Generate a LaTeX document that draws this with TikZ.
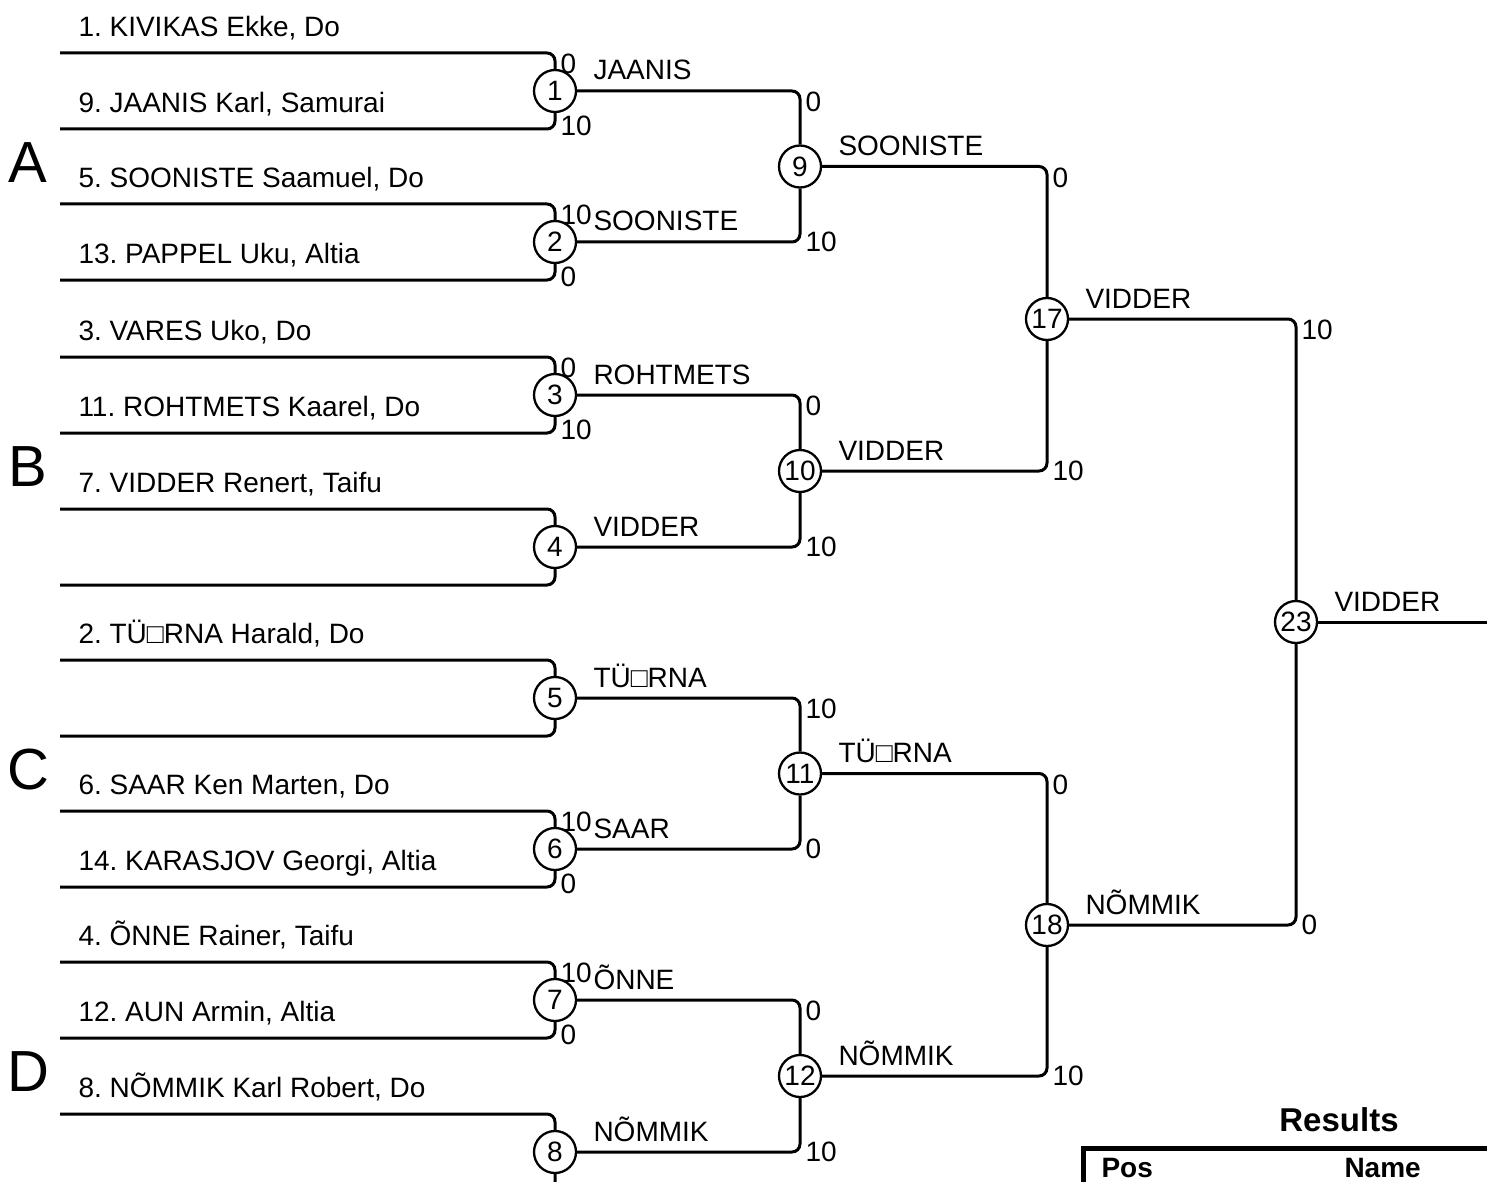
\documentclass[tikz,border=0pt]{standalone}
\usepackage{fontspec}
\setmainfont{Liberation Sans}
\usepackage{tikz}
\usetikzlibrary{positioning}
\frenchspacing
\tikzset{every picture/.style={line width=3pt}}
\tikzset{
  player/.style={anchor=south west, inner xsep=17pt, inner ysep=0pt, text depth=15pt, font=\fontsize{28}{30}\selectfont},
  bout/.style={circle, draw, line width=2.3pt, fill=white, minimum size=42pt, inner sep=0pt, font=\fontsize{28}{30}\selectfont},
  pts/.style={inner sep=0pt, font=\fontsize{28}{30}\selectfont},
  winner/.style={anchor=base west, inner sep=0pt, font=\fontsize{28}{30}\selectfont},
  pool/.style={inner sep=0pt, font=\fontsize{58}{60}\selectfont},
  bracket/.style={line width=3pt, rounded corners=8pt},
  head/.style={inner sep=0pt, font=\bfseries\fontsize{28}{30}\selectfont}
}

\begin{document}
\begin{tikzpicture}[x=1pt,y=1pt,yscale=-1,xscale=1]
\useasboundingbox (0,0) rectangle (1487,1182);

%Pools
\node[pool] (poolA) at (28,163) {A};
\node[pool] (poolB) at (28,467) {B};
\node[pool] (poolC) at (28,770) {C};
\node[pool] (poolD) at (28,1072) {D};

%Players
\node[player] (p1a) at (60,53) {1. KIVIKAS Ekke, Do};
\node[player] (p1b) at (60,129) {9. JAANIS Karl, Samurai};
\node[player] (p2a) at (60,204) {5. SOONISTE Saamuel, Do};
\node[player] (p2b) at (60,280) {13. PAPPEL Uku, Altia};
\node[player] (p3a) at (60,357) {3. VARES Uko, Do};
\node[player] (p3b) at (60,433) {11. ROHTMETS Kaarel, Do};
\node[player] (p4a) at (60,509) {7. VIDDER Renert, Taifu};
\node[player] (p4b) at (60,585) {};
\node[player] (p5a) at (60,660) {2. TÜ□RNA Harald, Do};
\node[player] (p5b) at (60,736) {};
\node[player] (p6a) at (60,811) {6. SAAR Ken Marten, Do};
\node[player] (p6b) at (60,887) {14. KARASJOV Georgi, Altia};
\node[player] (p7a) at (60,962) {4. ÕNNE Rainer, Taifu};
\node[player] (p7b) at (60,1038) {12. AUN Armin, Altia};
\node[player] (p8a) at (60,1114) {8. NÕMMIK Karl Robert, Do};
\node[player] (p8b) at (60,1190) {};

%Bouts
\node[bout] (m1) at (555,91) {1};
\node[bout] (m2) at (555,242) {2};
\node[bout] (m3) at (555,395) {3};
\node[bout] (m4) at (555,547) {4};
\node[bout] (m5) at (555,698) {5};
\node[bout] (m6) at (555,849) {6};
\node[bout] (m7) at (555,1000) {7};
\node[bout] (m8) at (555,1152) {8};
\node[bout] (m9) at (800,166.5) {9};
\node[bout] (m10) at (800,471) {10};
\node[bout] (m11) at (800,773.5) {11};
\node[bout] (m12) at (800,1076) {12};
\node[bout] (m17) at (1047,319) {17};
\node[bout] (m18) at (1047,925) {18};
\node[bout] (m23) at (1296,622) {23};
\coordinate (fin) at (1490,622);

%Bracket lines
\draw[bracket] (p1a.south west) -| (m1.north);
\draw[bracket] (p1b.south west) -| (m1.south);
\draw[bracket] (p2a.south west) -| (m2.north);
\draw[bracket] (p2b.south west) -| (m2.south);
\draw[bracket] (p3a.south west) -| (m3.north);
\draw[bracket] (p3b.south west) -| (m3.south);
\draw[bracket] (p4a.south west) -| (m4.north);
\draw[bracket] (p4b.south west) -| (m4.south);
\draw[bracket] (p5a.south west) -| (m5.north);
\draw[bracket] (p5b.south west) -| (m5.south);
\draw[bracket] (p6a.south west) -| (m6.north);
\draw[bracket] (p6b.south west) -| (m6.south);
\draw[bracket] (p7a.south west) -| (m7.north);
\draw[bracket] (p7b.south west) -| (m7.south);
\draw[bracket] (p8a.south west) -| (m8.north);
\draw[bracket] (p8b.south west) -| (m8.south);
\draw[bracket] (m1.east) -| (m9.north);
\draw[bracket] (m2.east) -| (m9.south);
\draw[bracket] (m3.east) -| (m10.north);
\draw[bracket] (m4.east) -| (m10.south);
\draw[bracket] (m5.east) -| (m11.north);
\draw[bracket] (m6.east) -| (m11.south);
\draw[bracket] (m7.east) -| (m12.north);
\draw[bracket] (m8.east) -| (m12.south);
\draw[bracket] (m9.east) -| (m17.north);
\draw[bracket] (m10.east) -| (m17.south);
\draw[bracket] (m11.east) -| (m18.north);
\draw[bracket] (m12.east) -| (m18.south);
\draw[bracket] (m17.east) -| (m23.north);
\draw[bracket] (m18.east) -| (m23.south);
\draw[bracket] (m23.east) -- (fin);

%Winners
\node[winner] (w1) at (592,80) {JAANIS};
\node[winner] (w2) at (592,231) {SOONISTE};
\node[winner] (w3) at (592,384) {ROHTMETS};
\node[winner] (w4) at (592,536) {VIDDER};
\node[winner] (w5) at (592,687) {TÜ□RNA};
\node[winner] (w6) at (592,838) {SAAR};
\node[winner] (w7) at (592,989) {ÕNNE};
\node[winner] (w8) at (592,1141) {NÕMMIK};
\node[winner] (w9) at (837,155.5) {SOONISTE};
\node[winner] (w10) at (837,460) {VIDDER};
\node[winner] (w11) at (837,762.5) {TÜ□RNA};
\node[winner] (w12) at (837,1065) {NÕMMIK};
\node[winner] (w17) at (1084,308) {VIDDER};
\node[winner] (w18) at (1084,914) {NÕMMIK};
\node[winner] (w23) at (1333,611) {VIDDER};

%Scores
\node[pts, anchor=north west] (s1a) at (559,52) {0};
\node[pts, anchor=west] (s1b) at (559,126) {10};
\node[pts, anchor=north west] (s2a) at (559,203) {10};
\node[pts, anchor=west] (s2b) at (559,277) {0};
\node[pts, anchor=north west] (s3a) at (559,356) {0};
\node[pts, anchor=west] (s3b) at (559,430) {10};
\node[pts, anchor=north west] (s6a) at (559,810) {10};
\node[pts, anchor=west] (s6b) at (559,884) {0};
\node[pts, anchor=north west] (s7a) at (559,961) {10};
\node[pts, anchor=west] (s7b) at (559,1035) {0};
\node[pts, anchor=north west] (s9a) at (804,90) {0};
\node[pts, anchor=west] (s9b) at (804,242) {10};
\node[pts, anchor=north west] (s10a) at (804,394) {0};
\node[pts, anchor=west] (s10b) at (804,547) {10};
\node[pts, anchor=north west] (s11a) at (804,697) {10};
\node[pts, anchor=west] (s11b) at (804,849) {0};
\node[pts, anchor=north west] (s12a) at (804,999) {0};
\node[pts, anchor=west] (s12b) at (804,1152) {10};
\node[pts, anchor=north west] (s17a) at (1051,166) {0};
\node[pts, anchor=west] (s17b) at (1051,471) {10};
\node[pts, anchor=north west] (s18a) at (1051,773) {0};
\node[pts, anchor=west] (s18b) at (1051,1076) {10};
\node[pts, anchor=north west] (s23a) at (1300,318) {10};
\node[pts, anchor=west] (s23b) at (1300,925) {0};

%Results table
\node[head, anchor=base, font=\bfseries\fontsize{33}{35}\selectfont] (results) at (1339,1131) {Results};
\coordinate (tab) at (1083,1148);
\draw[line width=5pt] (1083,1195) -- (tab) -- (1495,1148);
\node[head, anchor=base west] (pos) at (1100,1177) {Pos};
\node[head, anchor=base west] (name) at (1343,1177) {Name};

\end{tikzpicture}
\end{document}
